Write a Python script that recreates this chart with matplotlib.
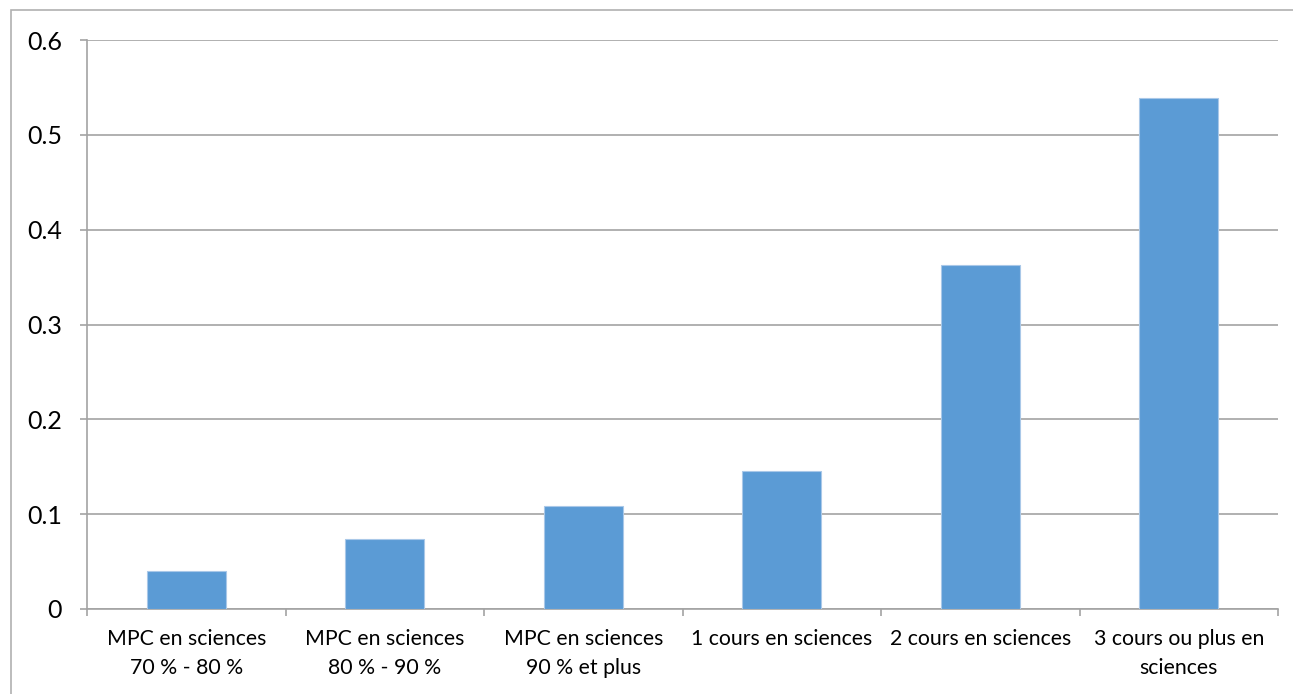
import matplotlib
matplotlib.use("Agg")
import matplotlib.pyplot as plt
from matplotlib.patches import Rectangle

categories = ["MPC en sciences\n70 % - 80 %", "MPC en sciences\n80 % - 90 %",
              "MPC en sciences\n90 % et plus", "1 cours en sciences",
              "2 cours en sciences", "3 cours ou plus en\nsciences"]
values = [0.040, 0.074, 0.109, 0.145, 0.363, 0.539]
yticks = [0, 0.1, 0.2, 0.3, 0.4, 0.5, 0.6]
ytick_labels = ["0", "0.1", "0.2", "0.3", "0.4", "0.5", "0.6"]

plt.rcParams['font.family'] = ['Lato', 'DejaVu Sans']
W, H = 1293, 694
fig = plt.figure(figsize=(W/100, H/100), dpi=100)
ax = fig.add_axes([87/W, 1 - 609/H, (1278-87)/W, (609-40)/H])

grid_c = "#a3a3a3"
x = range(len(categories))
ax.bar(x, values, width=0.4, color="#5B9BD5", edgecolor="#a9c8e8", linewidth=0.8, zorder=3)
ax.set_xlim(-0.5, len(categories) - 0.5)
ax.set_ylim(0, 0.6)
ax.set_yticks(yticks)
ax.set_yticklabels(ytick_labels, fontsize=18)
ax.yaxis.grid(True, color=grid_c, linewidth=1.2, zorder=0)
ax.set_xticks(list(x))
ax.set_xticklabels(categories, fontsize=15.3, linespacing=1.55)
ax.set_xticks([i - 0.5 for i in range(len(categories) + 1)], minor=True)
ax.tick_params(axis='x', which='major', length=0, pad=14.5)
ax.tick_params(axis='x', which='minor', length=5, color=grid_c, width=1.2)
ax.tick_params(axis='y', length=5, color=grid_c, width=1.2, pad=13)
for s in ["top", "right"]:
    ax.spines[s].set_visible(False)
for s in ["left", "bottom"]:
    ax.spines[s].set_color(grid_c)
    ax.spines[s].set_linewidth(1.2)

fig.patches.append(Rectangle((11/W, -0.1), 1.2, 1 - 10/H + 0.1, transform=fig.transFigure,
                             fill=False, edgecolor="#b0b0b0", linewidth=1.2))
fig.savefig("out.png", dpi=100)
